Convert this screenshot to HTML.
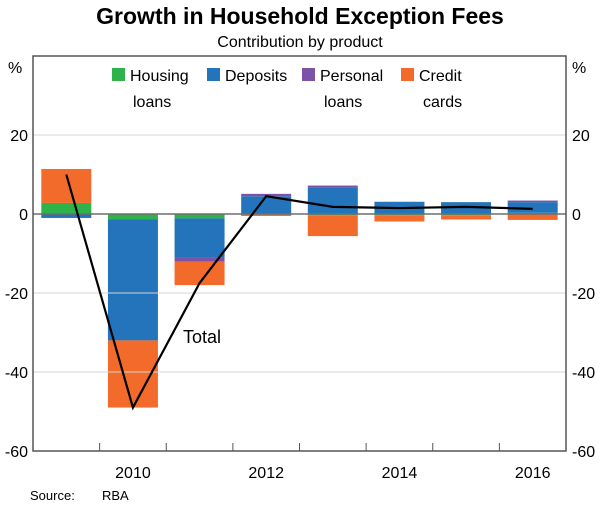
<!DOCTYPE html>
<html><head><meta charset="utf-8"><style>
body{margin:0;background:#fff;font-family:"Liberation Sans",Arial,sans-serif}
svg text{font-family:"Liberation Sans",Arial,sans-serif}
</style></head><body>
<svg id="c" width="600" height="510" xmlns="http://www.w3.org/2000/svg">
<text x="300" y="24" text-anchor="middle" font-size="23" font-weight="bold">Growth in Household Exception Fees</text>
<text x="300" y="47" text-anchor="middle" font-size="16">Contribution by product</text>
<text x="8" y="73" font-size="16">%</text>
<text x="572" y="73" font-size="16">%</text>
<text x="30" y="500" font-size="13">Source:</text>
<text x="102" y="500" font-size="13">RBA</text>
<g id="bars"></g><g id="grid"></g><g id="line"></g><g id="axes"></g>
<g>
<rect x="112" y="68" width="13" height="13" fill="#2db34a"/>
<text x="130" y="81" font-size="16">Housing</text>
<text x="133" y="107" font-size="16">loans</text>
<rect x="207" y="68" width="13" height="13" fill="#2474bb"/>
<text x="225" y="81" font-size="16">Deposits</text>
<rect x="302" y="68" width="13" height="13" fill="#7b52a5"/>
<text x="320" y="81" font-size="16">Personal</text>
<text x="324" y="107" font-size="16">loans</text>
<rect x="401" y="68" width="13" height="13" fill="#f26b2a"/>
<text x="419" y="81" font-size="16">Credit</text>
<text x="423" y="107" font-size="16">cards</text>
</g>
<text x="183" y="343" font-size="18">Total</text>
</svg>
<script>
const years=[2009,2010,2011,2012,2013,2014,2015,2016];
const housing=[2.8,-1.3,-1.1,0,-0.3,-0.3,-0.3,0.3];
const deposits=[-1,-30.7,-9.8,4.5,6.8,3.1,3,2.7];
const personal=[0,0,-1.2,0.6,0.4,0,0,0.4];
const credit=[8.6,-17,-5.9,-0.5,-5.3,-1.6,-1.1,-1.5];
const total=[10,-49,-17.5,4.5,1.8,1.5,1.8,1.3];
const yTicks=[-60,-40,-20,0,20];
const xLabels=[2010,2012,2014,2016];
const L=33,R=566,T=56,B=451,ymin=-60,ymax=40;
const NS='http://www.w3.org/2000/svg';
const step=(R-L)/years.length;
const xc=i=>L+step*(i+0.5);
const y=v=>T+(ymax-v)/(ymax-ymin)*(B-T);
function mk(p,tag,a){const e=document.createElementNS(NS,tag);for(const k in a)e.setAttribute(k,a[k]);document.getElementById(p).appendChild(e);return e;}
yTicks.forEach(v=>{if(v===0||v===-60)return;
const g=mk('grid','line',{x1:L,x2:R,y1:y(v),y2:y(v),stroke:'#d4d4d4','stroke-width':1});

});
const series=[['housing',housing,'#2db34a'],['deposits',deposits,'#2474bb'],['personal',personal,'#7b52a5'],['credit',credit,'#f26b2a']];
years.forEach((yr,i)=>{let pos=0,neg=0;
series.forEach(([n,arr,col])=>{const v=arr[i];if(!v)return;let a,b;
if(v>0){a=pos;b=pos+v;pos=b;}else{a=neg;b=neg+v;neg=b;}
const r=mk('bars','rect',{x:xc(i)-25,width:50,y:y(Math.max(a,b)),height:Math.abs(y(a)-y(b)),fill:col});

});});
const z=mk('grid','line',{x1:L,x2:R,y1:y(0),y2:y(0),stroke:'#6e6e6e','stroke-width':1.5});


const pl=mk('line','polyline',{points:total.map((v,i)=>xc(i)+','+y(v)).join(' '),fill:'none',stroke:'#000','stroke-width':2.2});


const fr=mk('axes','rect',{x:L,y:T,width:R-L,height:B-T,fill:'none',stroke:'#555','stroke-width':1.5});


for(let k=1;k<years.length;k++){const t=mk('axes','line',{x1:L+step*k,x2:L+step*k,y1:B,y2:B-8,stroke:'#555','stroke-width':1});

}
yTicks.forEach(v=>{[[28,'end'],[572,'start']].forEach(([x,an],j)=>{
const t=mk('axes','text',{x:x,y:y(v)+6,'font-size':16,'text-anchor':an});t.textContent=v;

});});
xLabels.forEach(yr=>{const i=years.indexOf(yr);
const t=mk('axes','text',{x:xc(i),y:478,'font-size':16,'text-anchor':'middle'});t.textContent=yr;

});
</script>
</body></html>
